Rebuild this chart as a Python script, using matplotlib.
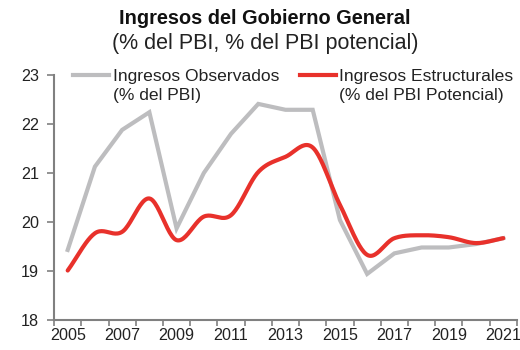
import numpy as np
import matplotlib
matplotlib.use("Agg")
import matplotlib.pyplot as plt
from matplotlib.lines import Line2D

plt.rcParams['font.family'] = ['Liberation Sans', 'DejaVu Sans']

years = list(range(2005, 2022))
observados = [19.43, 21.13, 21.88, 22.24, 19.87, 21.00, 21.80, 22.41, 22.29, 22.29,
              20.04, 18.94, 19.36, 19.48, 19.48, 19.55, 19.67]
estructurales = [19.01, 19.77, 19.80, 20.48, 19.63, 20.11, 20.14, 21.02, 21.33, 21.52,
                 20.35, 19.33, 19.67, 19.73, 19.69, 19.57, 19.67]
year_labels = [str(y) if (y - 2005) % 2 == 0 else "" for y in years]

label_obs = "Ingresos Observados\n(% del PBI)"
label_est = "Ingresos Estructurales\n(% del PBI Potencial)"

GRAY = "#BDBDBF"
RED = "#E8312B"
AXIS = "#808080"


def catmull_rom(x, y, n=24):
    """Smooth curve through every point (Catmull-Rom spline)."""
    x = np.asarray(x, float)
    y = np.asarray(y, float)
    px = np.concatenate([[2 * x[0] - x[1]], x, [2 * x[-1] - x[-2]]])
    py = np.concatenate([[2 * y[0] - y[1]], y, [2 * y[-1] - y[-2]]])
    xs, ys = [], []
    t = np.linspace(0, 1, n, endpoint=False)
    for i in range(1, len(px) - 2):
        for arr, out in ((px, xs), (py, ys)):
            p0, p1, p2, p3 = arr[i - 1], arr[i], arr[i + 1], arr[i + 2]
            out.extend(0.5 * ((2 * p1) + (-p0 + p2) * t
                              + (2 * p0 - 5 * p1 + 4 * p2 - p3) * t ** 2
                              + (-p0 + 3 * p1 - 3 * p2 + p3) * t ** 3))
    xs.append(x[-1])
    ys.append(y[-1])
    return np.array(xs), np.array(ys)


fig = plt.figure(figsize=(5.2, 3.5), dpi=100)
ax = fig.add_axes([0.104, 0.0857, 0.890, 0.700])

xi = np.arange(len(years))
ax.plot(xi, observados, color=GRAY, lw=3.0, solid_joinstyle='miter', zorder=2)
sx, sy = catmull_rom(xi, estructurales)
ax.plot(sx, sy, color=RED, lw=3.0, solid_capstyle='round', zorder=3)

ax.set_xlim(-0.5, len(years) - 0.5)
ax.set_ylim(18, 23)
ax.set_yticks([18, 19, 20, 21, 22, 23])
ax.set_xticks(xi)
ax.set_xticklabels(year_labels)
ax.set_xticks(np.arange(-0.5, len(years)), minor=True)
ax.tick_params(axis='x', which='major', length=0, pad=6, labelsize=11.6, colors='#222222')
ax.tick_params(axis='x', which='minor', length=4, width=1.2, color=AXIS)
ax.tick_params(axis='y', length=5, width=1.2, color=AXIS, labelsize=11.6,
               labelcolor='#222222', pad=6)

for s in ('top', 'right'):
    ax.spines[s].set_visible(False)
for s in ('left', 'bottom'):
    ax.spines[s].set_color(AXIS)
    ax.spines[s].set_linewidth(1.5)

# legend entries
fig.add_artist(Line2D([73 / 520, 109 / 520], [1 - 75 / 350] * 2, color=GRAY, lw=3.0))
fig.text(113 / 520, 1 - 68.5 / 350, label_obs, fontsize=12.6, va='top', ha='left',
         color='#222222', linespacing=1.35)
fig.add_artist(Line2D([300 / 520, 336 / 520], [1 - 75 / 350] * 2, color=RED, lw=3.0))
fig.text(339 / 520, 1 - 68.5 / 350, label_est, fontsize=12.6, va='top', ha='left',
         color='#222222', linespacing=1.35)

fig.text(264.5 / 520, 1 - 19 / 350, "Ingresos del Gobierno General", fontsize=14.4,
         fontweight='bold', ha='center', va='center', color='#111111')
fig.text(265 / 520, 1 - 44 / 350, "(% del PBI, % del PBI potencial)", fontsize=15.5,
         ha='center', va='center', color='#222222')

fig.savefig("out.png", dpi=100)
